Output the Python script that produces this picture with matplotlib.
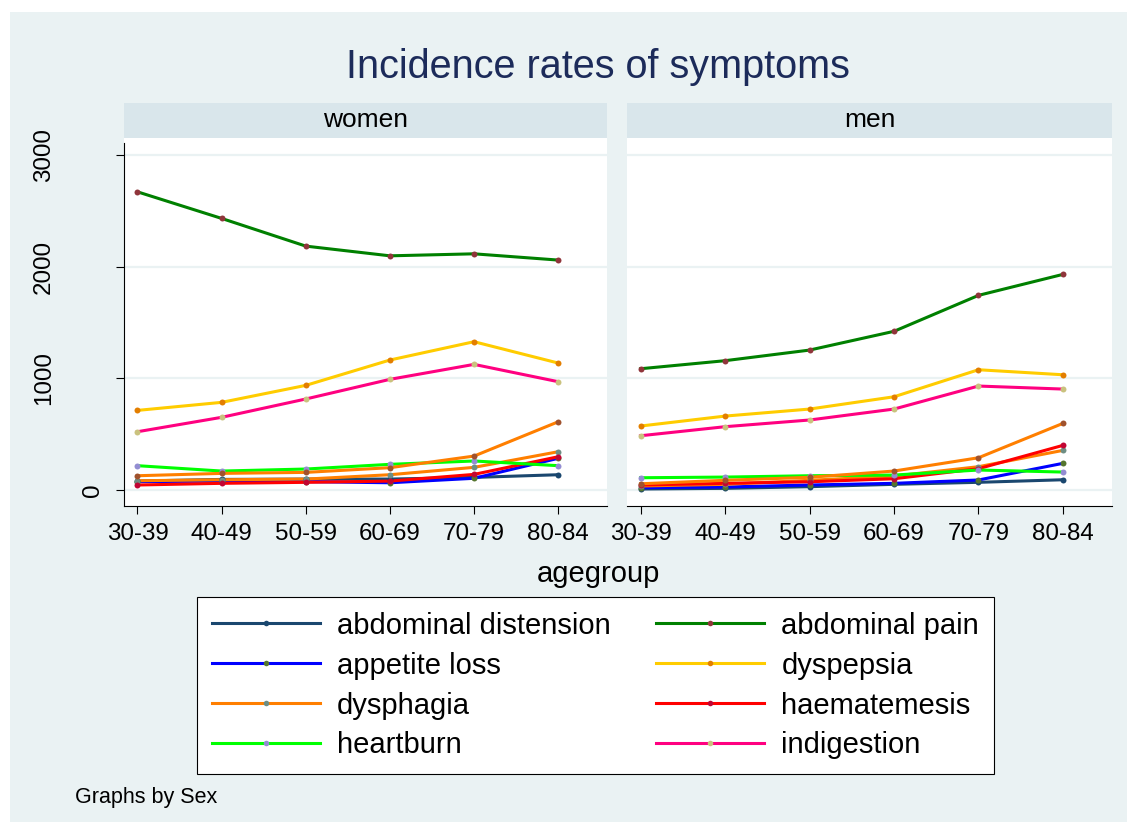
import matplotlib
matplotlib.use('Agg')
import matplotlib.pyplot as plt
from matplotlib.patches import Rectangle
from matplotlib.lines import Line2D
from matplotlib.transforms import blended_transform_factory

plt.rcParams['font.family'] = ['Liberation Sans', 'DejaVu Sans']

agegroups = ['30-39', '40-49', '50-59', '60-69', '70-79', '80-84']
panels = ['women', 'men']
symptoms = ['abdominal distension', 'abdominal pain', 'appetite loss', 'dyspepsia',
            'dysphagia', 'haematemesis', 'heartburn', 'indigestion']

# incidence per group, women then men
abd_distension = {'women': [80, 95, 98, 98, 113, 137], 'men': [9, 15, 30, 51, 69, 92]}
abd_pain = {'women': [2670, 2432, 2184, 2097, 2115, 2059], 'men': [1086, 1158, 1253, 1421, 1743, 1931]}
appetite_loss = {'women': [75, 80, 75, 65, 105, 284], 'men': [21, 27, 45, 60, 90, 239]}
dyspepsia = {'women': [713, 785, 937, 1164, 1328, 1137], 'men': [573, 662, 725, 835, 1077, 1032]}
dysphagia = {'women': [83, 92, 98, 137, 203, 343], 'men': [36, 51, 87, 125, 209, 355]}
haematemesis = {'women': [45, 60, 69, 80, 140, 298], 'men': [45, 60, 74, 101, 191, 400]}
heartburn = {'women': [218, 170, 188, 230, 260, 218], 'men': [110, 116, 128, 134, 179, 161]}
indigestion = {'women': [522, 651, 815, 991, 1125, 970], 'men': [486, 567, 627, 725, 931, 904]}
# ninth series: drawn but not in the legend
unlabelled = {'women': [128, 149, 158, 200, 304, 611], 'men': [56, 87, 114, 170, 289, 597]}

series = [abd_distension, abd_pain, appetite_loss, dyspepsia, dysphagia,
          haematemesis, heartburn, indigestion, unlabelled]
line_colors = ['#1a476f', '#008000', '#0000ff', '#ffcc00', '#ff7f00',
               '#ff0000', '#00ff00', '#ff0080', '#ff7f00']
marker_colors = ['#1a476f', '#90353b', '#55752f', '#e37e00', '#6e8e84',
                 '#c10534', '#938dd2', '#cac27e', '#a0522d']

yticks = [0, 1000, 2000, 3000]

W, H = 1136, 834
BG = '#eaf2f3'
STRIP = '#d9e6eb'

fig = plt.figure(figsize=(W / 100, H / 100), dpi=100, facecolor='white')

def fx(px):
    return px / W

def fy(py):
    return 1 - py / H

# graph region background
fig.patches.append(Rectangle((fx(10), fy(822)), fx(1117), (822 - 12) / H,
                             transform=fig.transFigure, facecolor=BG, edgecolor='none', zorder=-2))

fig.text(fx(598), fy(67), 'Incidence rates of symptoms', ha='center', va='center',
         fontsize=28.5, color='#1c2b5a')

panel_x = {'women': (124, 607), 'men': (627, 1112)}
top, bottom = 138, 506
x = list(range(len(agegroups)))

for name in panels:
    x0, x1 = panel_x[name]
    ax = fig.add_axes([fx(x0), fy(bottom), fx(x1 - x0), (bottom - top) / H])
    ax.set_zorder(1)
    ax.set_facecolor('white')

    # strip above the panel
    fig.patches.append(Rectangle((fx(x0), fy(137.5)), fx(x1 - x0), 34.5 / H,
                                 transform=fig.transFigure, facecolor=STRIP, edgecolor='none', zorder=-1))
    fig.text(fx((x0 + x1) / 2), fy(120), name, ha='center', va='center', fontsize=19)

    for s, lc, mc in zip(series, line_colors, marker_colors):
        ax.plot(x, s[name], '-', color=lc, lw=2.2, zorder=2)
        ax.plot(x, s[name], 'o', color=mc, ms=4.3, mec='none', zorder=3)

    ax.set_xlim(-0.16, 5.58)
    ax.set_ylim(-143, 3152)
    ax.set_yticks(yticks)
    ax.set_xticks(x)
    ax.set_xticklabels(agegroups, fontsize=17.4)
    ax.yaxis.grid(True, color=BG, lw=1.6)
    ax.set_axisbelow(True)
    ax.tick_params(axis='x', length=6, width=0.8, pad=6)

    for side in ['top', 'right']:
        ax.spines[side].set_visible(False)
    ax.spines['bottom'].set_linewidth(0.8)

    if name == 'women':
        ax.spines['left'].set_linewidth(0.8)
        ax.spines['left'].set_bounds(-143, 3110)
        ax.tick_params(axis='y', length=6, width=0.8, labelleft=False)
        # Stata-style rotated labels, "0" sits closer to the axis
        trans = blended_transform_factory(fig.transFigure, ax.transData)
        for v in yticks:
            px = 93.5 if v == 0 else 44
            ax.text(fx(px), v, str(v), transform=trans, rotation=90,
                    ha='center', va='center', fontsize=17.4, clip_on=False)
    else:
        ax.spines['left'].set_visible(False)
        ax.tick_params(axis='y', left=False, labelleft=False)

fig.text(fx(598), fy(574), 'agegroup', ha='center', va='center', fontsize=21)

handles = [Line2D([], [], color=lc, lw=2.2, marker='o', ms=4.0, mfc=mc, mec='none')
           for lc, mc in zip(line_colors[:8], marker_colors[:8])]
# legend fills by column, reorder so it reads across rows
order = [0, 2, 4, 6, 1, 3, 5, 7]
leg = fig.legend([handles[i] for i in order], [symptoms[i] for i in order],
                 loc='upper left', bbox_to_anchor=(fx(197), fy(597)),
                 ncol=2, fontsize=21, frameon=True, fancybox=False, edgecolor='black',
                 facecolor='white', framealpha=1, borderpad=0.5, handlelength=3.7,
                 handletextpad=0.6, labelspacing=0.41, columnspacing=1.55, borderaxespad=0,
                 numpoints=1)
leg.get_frame().set_linewidth(0.8)

fig.text(fx(75), fy(798), 'Graphs by Sex', ha='left', va='center', fontsize=15.5)

fig.savefig('out.png', dpi=100, facecolor=fig.get_facecolor())
